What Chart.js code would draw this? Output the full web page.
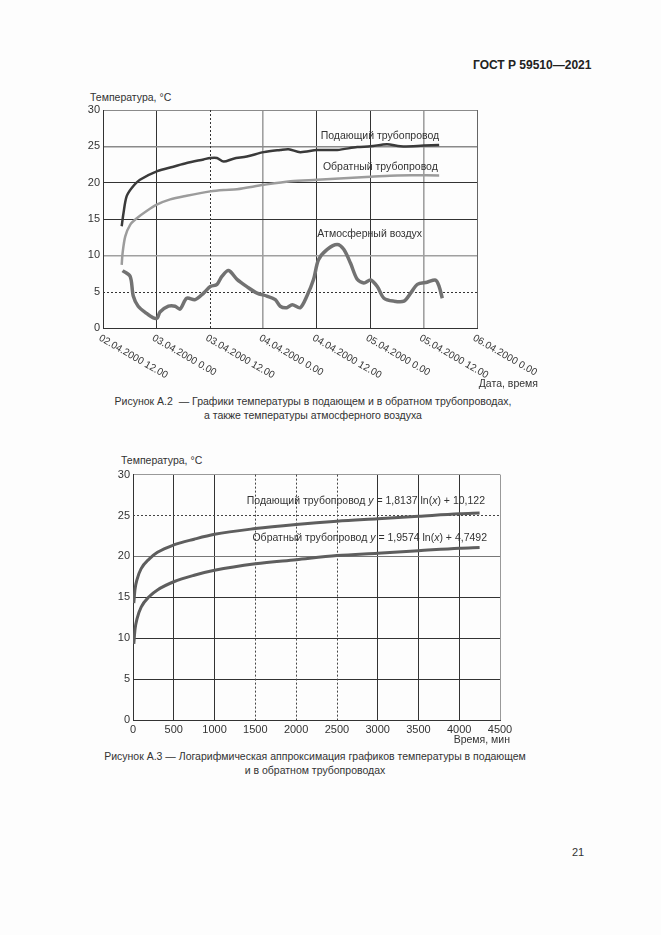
<!DOCTYPE html>
<html lang="ru">
<head>
<meta charset="utf-8">
<title>ГОСТ Р 59510—2021</title>
<script src="https://cdn.jsdelivr.net/npm/chart.js@4.4.1/dist/chart.umd.min.js"></script>
<style>
  body { margin: 0; background: #fff; }
  #page { position: relative; width: 661px; height: 935px; background: #fdfdfd; overflow: hidden;
          font-family: "Liberation Sans", Arial, sans-serif; color: #333; }
  .t { position: absolute; white-space: nowrap; font-size: 10.5px; line-height: 12px; }
  canvas { position: absolute; left: 0; }
</style>
</head>
<body>
<div id="page">
  <div class="t" style="left:473px;top:59px;font-weight:bold;font-size:12px;color:#222">ГОСТ Р 59510—2021</div>

  <div class="t" style="left:90px;top:91px">Температура, °C</div>
  <canvas id="chart1" width="661" height="300" style="top:90px"></canvas>
  <div class="t" style="right:123px;top:377px">Дата, время</div>
  <div class="t" style="left:0;width:626px;top:395px;text-align:center">Рисунок А.2&nbsp; — Графики температуры в подающем и в обратном трубопроводах,</div>
  <div class="t" style="left:0;width:626px;top:409px;text-align:center">а также температуры атмосферного воздуха</div>

  <div class="t" style="left:121px;top:454px">Температура, °C</div>
  <canvas id="chart2" width="661" height="270" style="top:465px"></canvas>
  <div class="t" style="right:176px;top:494px">Подающий трубопровод <i>y</i> = 1,8137 ln(<i>x</i>) + 10,122</div>
  <div class="t" style="right:174px;top:531px">Обратный трубопровод <i>y</i> = 1,9574 ln(<i>x</i>) + 4,7492</div>
  <div class="t" style="right:151px;top:733px">Время, мин</div>
  <div class="t" style="left:0;width:630px;top:750px;text-align:center">Рисунок А.3 — Логарифмическая аппроксимация графиков температуры в подающем</div>
  <div class="t" style="left:0;width:630px;top:764px;text-align:center">и в обратном трубопроводах</div>

  <div class="t" style="left:572px;top:846px;font-size:11px">21</div>
</div>

<script>
// ---- Рисунок А.2: hours from 02.04.2000 12.00 ----
const timeTicks = [0, 12, 24, 36, 48, 60, 72, 84]
const tickLabels = ['02.04.2000 12.00', '03.04.2000 0.00', '03.04.2000 12.00', '04.04.2000 0.00',
                    '04.04.2000 12.00', '05.04.2000 0.00', '05.04.2000 12.00', '06.04.2000 0.00']

const supplyHours = [4.2, 4.6, 5.3, 6.5, 8.3, 12.2, 15.8, 18.8, 22.6, 24.1, 25.6, 27.1, 29.3, 32.3, 36.1,
                     39.8, 41.7, 44.3, 48.1, 52.6, 57.1, 60.1, 63.8, 66.8, 72.1, 75.5]
const supplyTemp  = [14.0, 15.8, 18.1, 19.3, 20.4, 21.6, 22.2, 22.7, 23.2, 23.4, 23.4, 22.9, 23.3, 23.6, 24.2,
                     24.5, 24.6, 24.2, 24.5, 24.5, 24.9, 25.0, 25.3, 25.0, 25.1, 25.2]

const returnHours = [4.2, 4.4, 5.0, 6.1, 7.6, 9.8, 12.2, 15.1, 18.8, 24.1, 27.1, 30.1, 36.1, 42.1, 48.1,
                     54.1, 60.1, 66.1, 75.5]
const returnTemp  = [8.7, 10.3, 12.6, 14.2, 15.1, 16.1, 17.0, 17.7, 18.2, 18.8, 19.0, 19.1, 19.7, 20.2, 20.4,
                     20.6, 20.8, 21.0, 21.0]

const airHours = [4.4, 6.1, 6.8, 7.9, 9.8, 11.3, 12.2, 12.8, 14.7, 16.2, 17.3, 18.8, 20.7, 22.6, 24.1, 25.6,
                  26.7, 28.2, 30.1, 32.3, 34.6, 36.8, 38.7, 39.8, 41.3, 42.5, 44.3, 45.8, 47.3, 48.4, 50.3,
                  52.6, 54.1, 55.6, 57.1, 58.6, 60.1, 61.6, 63.1, 65.3, 67.6, 69.1, 70.6, 72.8, 74.7, 75.5, 76.2]
const airTemp  = [7.9, 7.1, 4.4, 3.0, 2.0, 1.4, 1.4, 2.2, 3.0, 3.0, 2.6, 4.1, 3.9, 4.8, 5.7, 6.0,
                  7.1, 7.9, 6.7, 5.7, 4.8, 4.4, 3.9, 3.0, 2.8, 3.2, 2.8, 4.4, 6.7, 9.4, 10.8,
                  11.5, 10.8, 8.9, 6.7, 6.2, 6.6, 5.7, 4.1, 3.7, 3.7, 4.8, 6.0, 6.3, 6.6, 5.7, 4.1]

// ---- Рисунок А.3: minutes ----
const fitMinutes = [10, 25, 50, 100, 200, 300, 500, 750, 1000, 1500, 2000, 2500, 3000, 3500, 4000, 4250]
const fitSupply  = [14.3, 16.0, 17.2, 18.5, 19.7, 20.5, 21.4, 22.1, 22.7, 23.4, 23.9, 24.3, 24.6, 24.9, 25.2, 25.3]
const fitReturn  = [9.3, 11.1, 12.4, 13.8, 15.1, 15.9, 16.9, 17.7, 18.3, 19.1, 19.6, 20.1, 20.4, 20.7, 21.0, 21.1]

const FONT = '"Liberation Sans", Arial, sans-serif'
const zip = (xs, ys) => xs.map((x, i) => ({x: x, y: ys[i]}))

// dotted grid lines that Chart.js cannot dash per line
const dottedLines = (xVals, yVals, color) => ({
    id: 'dottedLines',
    beforeDatasetsDraw(chart) {
        const {ctx, chartArea: a, scales: {x, y}} = chart
        ctx.save()
        ctx.strokeStyle = color
        ctx.lineWidth = 1
        ctx.setLineDash([2, 2])
        xVals.forEach(v => {
            const px = Math.round(x.getPixelForValue(v)) + 0.5
            ctx.beginPath(); ctx.moveTo(px, a.top); ctx.lineTo(px, a.bottom); ctx.stroke()
        })
        yVals.forEach(v => {
            const py = Math.round(y.getPixelForValue(v)) + 0.5
            ctx.beginPath(); ctx.moveTo(a.left, py); ctx.lineTo(a.right, py); ctx.stroke()
        })
        ctx.restore()
    }
})

const dateLabels = {
    id: 'dateLabels',
    afterDraw(chart) {
        const {ctx, scales: {x}} = chart
        ctx.save()
        ctx.font = '10px ' + FONT
        ctx.fillStyle = '#333'
        ctx.textAlign = 'left'
        ctx.textBaseline = 'top'
        timeTicks.forEach((h, i) => {
            ctx.save()
            ctx.translate(x.getPixelForValue(h) - 1, x.top + 5)
            ctx.rotate(30 * Math.PI / 180)
            ctx.fillText(tickLabels[i], 0, 0)
            ctx.restore()
        })
        ctx.restore()
    }
}

const seriesNames = {
    id: 'seriesNames',
    afterDatasetsDraw(chart) {
        const {ctx, scales: {x, y}} = chart
        ctx.save()
        ctx.font = '10.5px ' + FONT
        ctx.fillStyle = '#333'
        ctx.textAlign = 'center'
        ctx.textBaseline = 'middle'
        ctx.fillText('Подающий трубопровод', x.getPixelForValue(62.2), y.getPixelForValue(26.4))
        ctx.fillText('Обратный трубопровод', x.getPixelForValue(62.3), y.getPixelForValue(22.1))
        ctx.fillText('Атмосферный воздух', x.getPixelForValue(59.9), y.getPixelForValue(12.9))
        ctx.restore()
    }
}

const gridColor = (map, fallback) => c => map[c.tick.value] || fallback

Chart.defaults.font.family = FONT
Chart.defaults.color = '#333'

new Chart(document.getElementById('chart1'), {
    type: 'line',
    data: {
        datasets: [
            {data: zip(supplyHours, supplyTemp), borderColor: '#3a3a3a', borderWidth: 2.5},
            {data: zip(returnHours, returnTemp), borderColor: '#9c9c9c', borderWidth: 2.5},
            {data: zip(airHours, airTemp), borderColor: '#727272', borderWidth: 3.5}
        ]
    },
    options: {
        responsive: false,
        animation: false,
        devicePixelRatio: 1,
        layout: {padding: {top: 20, right: 184, bottom: 0, left: 0}},
        elements: {point: {radius: 0}, line: {tension: 0.3}},
        plugins: {legend: {display: false}, tooltip: {enabled: false}},
        scales: {
            x: {
                type: 'linear', min: 0, max: 84,
                ticks: {display: false, stepSize: 12},
                grid: {
                    drawTicks: false,
                    color: gridColor({12: '#333', 24: 'rgba(0,0,0,0)', 36: '#a0a0a0', 48: '#333', 60: '#333', 72: '#a0a0a0', 84: '#666'}, '#333'),
                    lineWidth: c => (c.tick.value === 36 || c.tick.value === 72) ? 1.6 : 1
                },
                border: {color: '#333'},
                afterFit: s => { s.height = 62 }
            },
            y: {
                min: 0, max: 30,
                ticks: {stepSize: 5, padding: 3, font: {size: 11}},
                grid: {
                    drawTicks: false,
                    color: gridColor({5: 'rgba(0,0,0,0)', 10: '#a0a0a0', 25: '#8a8a8a', 30: '#8a8a8a'}, '#333'),
                    lineWidth: c => (c.tick.value === 10 || c.tick.value === 25) ? 1.6 : 1
                },
                border: {color: '#333'},
                afterFit: s => { s.width = 103 }
            }
        }
    },
    plugins: [dottedLines([24], [5], '#333'), dateLabels, seriesNames]
})

new Chart(document.getElementById('chart2'), {
    type: 'line',
    data: {
        datasets: [
            {data: zip(fitMinutes, fitSupply), borderColor: '#5e5e5e', borderWidth: 3},
            {data: zip(fitMinutes, fitReturn), borderColor: '#5e5e5e', borderWidth: 3}
        ]
    },
    options: {
        responsive: false,
        animation: false,
        devicePixelRatio: 1,
        layout: {padding: {top: 8, right: 161, bottom: 0, left: 0}},
        elements: {point: {radius: 0}, line: {cubicInterpolationMode: 'monotone'}},
        plugins: {legend: {display: false}, tooltip: {enabled: false}},
        scales: {
            x: {
                type: 'linear', min: 0, max: 4500,
                ticks: {stepSize: 500, padding: 3, maxRotation: 0, font: {size: 11}, callback: v => String(v)},
                grid: {
                    drawTicks: false,
                    color: gridColor({1500: 'rgba(0,0,0,0)', 2000: 'rgba(0,0,0,0)', 2500: 'rgba(0,0,0,0)', 4500: '#999'}, '#333')
                },
                border: {color: '#333'},
                afterFit: s => { s.height = 15 }
            },
            y: {
                min: 0, max: 30,
                ticks: {stepSize: 5, padding: 3, font: {size: 11}},
                grid: {
                    drawTicks: false,
                    color: gridColor({25: 'rgba(0,0,0,0)', 20: '#777', 30: '#999'}, '#333')
                },
                border: {color: '#333'},
                afterFit: s => { s.width = 133 }
            }
        }
    },
    plugins: [dottedLines([1500, 2000, 2500], [25], '#444')]
})
</script>
</body>
</html>
